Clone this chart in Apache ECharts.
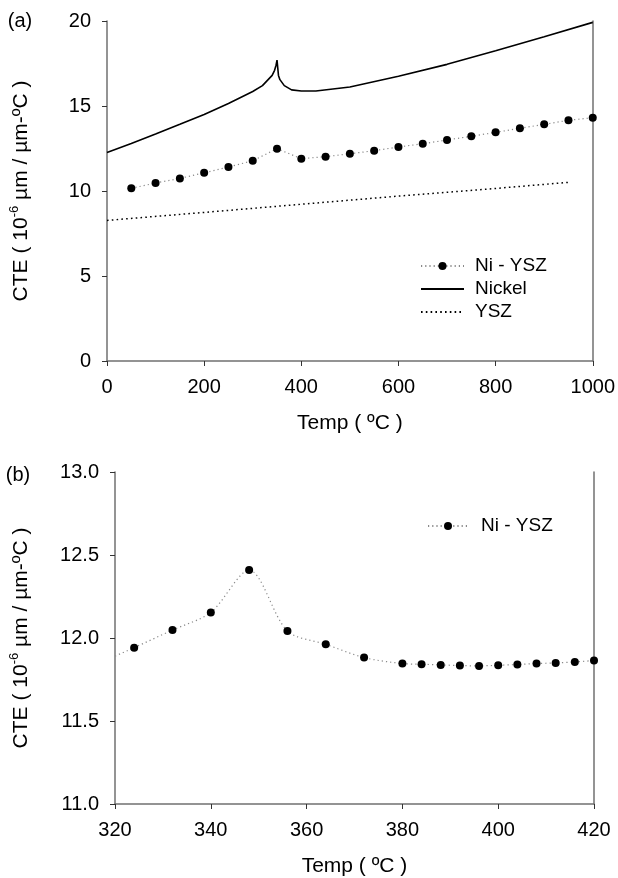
<!DOCTYPE html>
<html>
<head>
<meta charset="utf-8">
<script src="https://cdn.jsdelivr.net/npm/echarts@6/dist/echarts.min.js"></script>
<style>
html,body{margin:0;padding:0;background:#fff;}
#chart{width:618px;height:878px;}
</style>
</head>
<body>
<div id="chart"></div>
<script>
// ---------- Data ----------
// Panel (a)
const tempA = [50,100,150,200,250,300,350,400,450,500,550,600,650,700,750,800,850,900,950,1000];
const niYszA = [10.16,10.47,10.74,11.07,11.41,11.78,12.49,11.90,12.02,12.19,12.37,12.59,12.78,13.00,13.22,13.45,13.69,13.92,14.16,14.31];
const nickelT = [0,50,100,150,200,250,300,320,340,345,348,350,353,356,365,380,400,430,500,600,700,800,900,1000];
const nickelV = [12.27,12.80,13.35,13.92,14.50,15.15,15.85,16.20,16.80,17.10,17.40,17.70,16.80,16.55,16.20,15.95,15.88,15.88,16.12,16.75,17.45,18.25,19.07,19.92];
const yszT = [0,200,400,600,800,950];
const yszV = [8.27,8.74,9.22,9.70,10.15,10.51];
// Panel (b)
const tempB = [316,324,332,340,348,356,364,372,380,384,388,392,396,400,404,408,412,416,420];
const niYszB = [11.84,11.942,12.048,12.154,12.409,12.042,11.962,11.882,11.846,11.842,11.838,11.834,11.832,11.836,11.840,11.846,11.850,11.856,11.864];
// Ticks
const xTicksA = {min:0, max:1000, interval:200};
const yTicksA = {min:0, max:20, interval:5};
const xTicksB = {min:320, max:420, interval:20};
const yTicksB = {min:11, max:13, interval:0.5};

const zip = (a, b) => a.map((v, i) => [v, b[i]]);

const FONT = "'Liberation Sans', Arial, sans-serif";
const axisLineStyle = {show:true, onZero:false, lineStyle:{color:'#707070', width:1.5}};
const tickStyle = {show:true, length:5, lineStyle:{color:'#333', width:1}};
const yName = '{n|CTE ( 10}{s|-6}{n| µm / µm-ºC )}';
const yNameStyle = {
  color:'#000',
  rich:{
    n:{fontSize:21, color:'#000', fontFamily:FONT, lineHeight:26},
    s:{fontSize:13, color:'#000', fontFamily:FONT, verticalAlign:'top', lineHeight:13}
  }
};

function xAxis(grid, t, name) {
  return {
    gridIndex:grid, type:'value', min:t.min, max:t.max, interval:t.interval,
    name:name, nameLocation:'middle', nameGap:52,
    nameTextStyle:{fontSize:21, color:'#000', fontFamily:FONT},
    axisLine:axisLineStyle, axisTick:tickStyle,
    axisLabel:{fontSize:20, color:'#000', margin:16, fontFamily:FONT, formatter:v => String(v)},
    splitLine:{show:false}
  };
}
function yAxis(grid, t, gap, fmt) {
  return {
    gridIndex:grid, type:'value', min:t.min, max:t.max, interval:t.interval,
    name:yName, nameLocation:'middle', nameGap:gap, nameTextStyle:yNameStyle,
    axisLine:axisLineStyle, axisTick:tickStyle,
    axisLabel:{fontSize:20, color:'#000', margin:16, fontFamily:FONT, formatter:fmt},
    splitLine:{show:false}
  };
}
function rightAxis(grid, t) {
  return {
    gridIndex:grid, type:'value', position:'right', min:t.min, max:t.max,
    axisLine:axisLineStyle, axisTick:{show:false}, axisLabel:{show:false}, splitLine:{show:false}
  };
}

const chart = echarts.init(document.getElementById('chart'), null, {renderer:'canvas'});
const option = {
  animation:false,
  backgroundColor:'#fff',
  textStyle:{fontFamily:FONT},
  grid:[
    {left:106, top:21, width:488, height:340},
    {left:114, top:472, width:480, height:332}
  ],
  xAxis:[xAxis(0, xTicksA, 'Temp ( ºC )'), xAxis(1, xTicksB, 'Temp ( ºC )')],
  yAxis:[
    yAxis(0, yTicksA, 73, v => String(v)),
    rightAxis(0, yTicksA),
    yAxis(1, yTicksB, 81, v => v.toFixed(1)),
    rightAxis(1, yTicksB)
  ],
  legend:[
    {
      left:415, top:251, orient:'vertical', itemWidth:43, itemHeight:10, itemGap:3,
      data:[
        {name:'Ni - YSZ', icon:'inherit'},
        {name:'Nickel', icon:'inherit', itemStyle:{opacity:0}},
        {name:'YSZ', icon:'inherit', itemStyle:{opacity:0}}
      ],
      textStyle:{fontSize:19, color:'#000', lineHeight:20, fontFamily:FONT, padding:[0,0,0,6]}
    },
    {
      left:422, top:511, orient:'vertical', itemWidth:40, itemHeight:10,
      data:[{name:'Ni - YSZ', icon:'inherit'}],
      textStyle:{fontSize:19, color:'#000', lineHeight:20, fontFamily:FONT, padding:[0,0,0,8]}
    }
  ],
  graphic:[
    {type:'text', style:{x:20, y:21, text:'(a)', font:'20px ' + FONT, fill:'#000', textAlign:'center', textVerticalAlign:'middle'}},
    {type:'text', style:{x:18, y:475, text:'(b)', font:'20px ' + FONT, fill:'#000', textAlign:'center', textVerticalAlign:'middle'}}
  ],
  series:[
    {
      name:'Ni - YSZ', type:'line', xAxisIndex:0, yAxisIndex:0,
      data:zip(tempA, niYszA),
      symbol:'circle', symbolSize:8,
      itemStyle:{color:'#000'},
      lineStyle:{color:'#8a8a8a', width:1.2, type:[1.2,3]},
      z:3
    },
    {
      name:'Nickel', type:'line', xAxisIndex:0, yAxisIndex:0,
      data:zip(nickelT, nickelV),
      showSymbol:false, symbol:'none',
      itemStyle:{color:'#000'},
      lineStyle:{color:'#000', width:1.6}
    },
    {
      name:'YSZ', type:'line', xAxisIndex:0, yAxisIndex:0,
      data:zip(yszT, yszV),
      showSymbol:false, symbol:'none',
      itemStyle:{color:'#000'},
      lineStyle:{color:'#000', width:1.5, type:[1.6,3.2]}
    },
    {
      name:'Ni - YSZ', type:'line', xAxisIndex:1, yAxisIndex:2,
      data:zip(tempB, niYszB),
      symbol:'circle', symbolSize:8, smooth:0.3, clip:true,
      itemStyle:{color:'#000'},
      lineStyle:{color:'#8a8a8a', width:1.2, type:[1.2,3]},
      z:3
    }
  ]
};
chart.setOption(option);
</script>
</body>
</html>
